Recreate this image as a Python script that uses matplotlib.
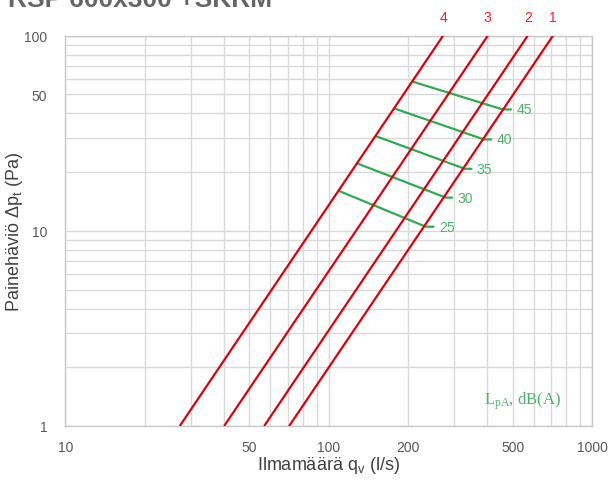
import matplotlib.pyplot as plt
import matplotlib.ticker as mticker

# red duct lines: flow (l/s) at 1 Pa and at 100 Pa
line_names = ['1', '2', '3', '4']
flow_at_1pa = [70.8, 56.9, 40.1, 27.2]
flow_at_100pa = [711, 570, 402, 272]
dp_range = [1, 100]

# green sound level lines (LpA, dB(A))
sound_levels = ['25', '30', '35', '40', '45']
green_flow_start = [109.6, 129, 151.8, 178.3, 208]
green_dp_start = [16.0, 22.1, 30.5, 42.3, 58.2]
green_flow_end = [233.9, 278.5, 328.9, 389, 458]
green_dp_end = [10.5, 14.8, 20.8, 29.4, 41.9]
green_flow_tick = [249.8, 293.5, 348, 413, 491]

x_ticks = [10, 50, 100, 200, 500, 1000]
y_ticks = [1, 10, 50, 100]

red = '#e0000b'
green = '#33a853'
green_text = '#4cb46a'
grey_text = '#595959'
grid_col = '#d9d9d9'

plt.rcParams['font.family'] = ['Liberation Sans', 'DejaVu Sans']
plt.rcParams['mathtext.fontset'] = 'custom'
plt.rcParams['mathtext.rm'] = 'Liberation Sans'
plt.rcParams['mathtext.it'] = 'Liberation Sans'

fig = plt.figure(figsize=(6.13, 4.81), dpi=100)
ax = fig.add_axes([65.3 / 613, 1 - 427 / 481, (592 - 65.3) / 613, (427 - 36.7) / 481])

ax.set_xscale('log')
ax.set_yscale('log')
ax.set_xlim(10, 1000)
ax.set_ylim(1, 100)

ax.grid(True, which='both', color=grid_col, linewidth=1.0)
ax.set_axisbelow(True)
for s in ax.spines.values():
    s.set_color('#c8c8c8')
    s.set_linewidth(1.0)

ax.xaxis.set_major_locator(mticker.FixedLocator(x_ticks))
ax.yaxis.set_major_locator(mticker.FixedLocator(y_ticks))
ax.xaxis.set_major_formatter(mticker.FixedFormatter([str(v) for v in x_ticks]))
ax.yaxis.set_major_formatter(mticker.FixedFormatter([str(v) for v in y_ticks]))
ax.xaxis.set_minor_locator(mticker.LogLocator(base=10, subs=range(2, 10)))
ax.yaxis.set_minor_locator(mticker.LogLocator(base=10, subs=range(2, 10)))
ax.xaxis.set_minor_formatter(mticker.NullFormatter())
ax.yaxis.set_minor_formatter(mticker.NullFormatter())
ax.tick_params(which='both', length=0, labelsize=10, labelcolor=grey_text)
ax.tick_params(axis='x', pad=10)
ax.tick_params(axis='y', pad=13)

# red lines
for name, q1, q100 in zip(line_names, flow_at_1pa, flow_at_100pa):
    ax.plot([q1, q100], dp_range, color=red, linewidth=1.6, solid_capstyle='butt', zorder=3)
    ax.annotate(name, xy=(q100, dp_range[1]), xytext=(0, 13.5), textcoords='offset points',
                ha='center', va='center', color='#ff1a1a', fontsize=10, annotation_clip=False)

# green lines
for lvl, q0, p0, q1, p1, qt in zip(sound_levels, green_flow_start, green_dp_start,
                                   green_flow_end, green_dp_end, green_flow_tick):
    ax.plot([q0, q1, qt], [p0, p1, p1], color=green, linewidth=1.6, zorder=2)
    ax.annotate(lvl, xy=(qt, p1), xytext=(4, 0), textcoords='offset points',
                ha='left', va='center', color=green_text, fontsize=10)

ax.text(0.795, 0.065, r'$\mathregular{L_{pA}}$, dB(A)', transform=ax.transAxes,
        color=green_text, fontsize=12, family=['Liberation Serif', 'DejaVu Serif'],
        ha='left', va='center', math_fontfamily='stix')

ax.set_xlabel(r'Ilmamäärä q$_\mathregular{v}$ (l/s)', fontsize=13, color='#404040')
ax.set_ylabel(r'Painehäviö Δp$_\mathregular{t}$ (Pa)', fontsize=13, color='#404040')
ax.xaxis.set_label_coords(0.5, -(466 - 427) / 390.3)
ax.yaxis.set_label_coords(-(65.3 - 15) / 526.7, 0.5)
ax.xaxis.label.set_va('center')
ax.yaxis.label.set_va('center')

fig.text(8 / 613, 1 - 7.3 / 481, 'RSP 600x300 +SKRM', fontsize=19, fontweight='bold',
         color='#666666', ha='left', va='baseline')

fig.savefig('out.png', dpi=100)
